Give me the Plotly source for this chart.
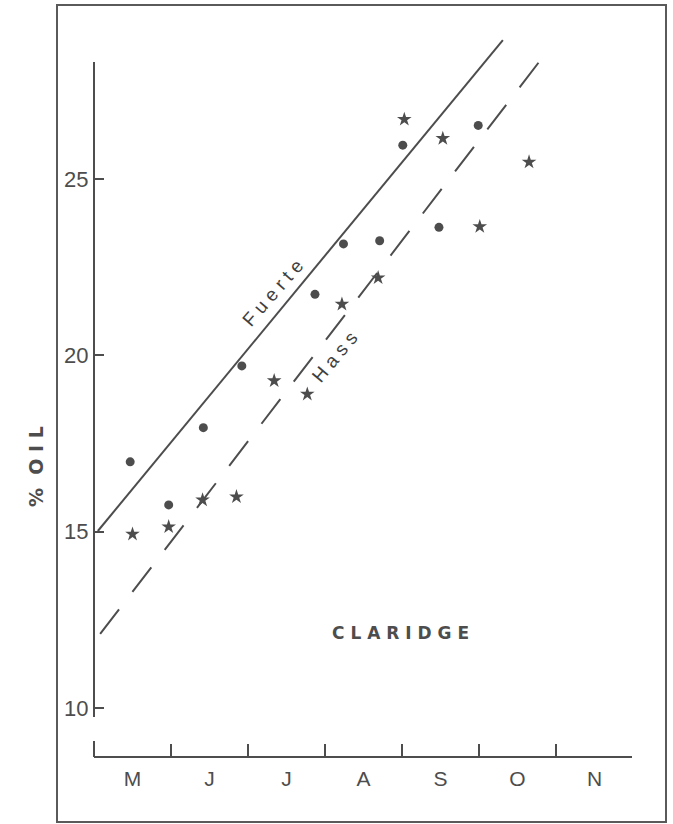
import plotly.graph_objects as go

W, H = 673, 824

# ---------------- data ----------------
months = ["M", "J", "J", "A", "S", "O", "N"]
month_centers = [0.5, 1.5, 2.5, 3.5, 4.5, 5.5, 6.5]
month_bounds = [1, 2, 3, 4, 5, 6]
y_ticks = [10, 15, 20, 25]

# x = months after 1 May, y = % oil
fuerte_x = [0.47, 0.97, 1.42, 1.92, 2.87, 3.24, 3.71, 4.01, 4.48, 4.99]
fuerte_y = [16.98, 15.76, 17.95, 19.70, 21.73, 23.16, 23.25, 25.96, 23.63, 26.52]

hass_x = [0.50, 0.97, 1.41, 1.85, 2.34, 2.77, 3.22, 3.69, 4.03, 4.53, 5.01, 5.65]
hass_y = [14.93, 15.14, 15.90, 15.99, 19.28, 18.90, 21.45, 22.20, 26.69, 26.15, 23.65, 25.48]

fuerte_fit_x = [0.05, 5.31]
fuerte_fit_y = [15.02, 28.94]
hass_fit_x = [0.08, 5.83]
hass_fit_y = [12.10, 28.46]

# ---------------- geometry (pixels) ----------------
X0, SX = 94.0, 77.0        # pixel of x=0, pixels per month
Y25, SY = 179.0, 35.27     # pixel of y=25, pixels per % oil


def xv(px):
    return (px - X0) / SX


def yv(py):
    return 25 + (Y25 - py) / SY


def paper_x(px):
    return px / W


def paper_y(py):
    return 1 - py / H


INK = "#4d4d4d"
NARROW = "Liberation Sans, Arial, sans-serif"
BOLD = "DejaVu Sans, Verdana, sans-serif"
NB = "\u00a0"


def spaced(s, n=1):
    return (NB * n).join(list(s))


fig = go.Figure()

# regression lines
fig.add_trace(go.Scatter(x=fuerte_fit_x, y=fuerte_fit_y, mode="lines",
                         line=dict(color=INK, width=2), showlegend=False,
                         hoverinfo="skip"))
fig.add_trace(go.Scatter(x=hass_fit_x, y=hass_fit_y, mode="lines",
                         line=dict(color=INK, width=2, dash="31px,22px"),
                         showlegend=False, hoverinfo="skip"))
# points
fig.add_trace(go.Scatter(x=fuerte_x, y=fuerte_y, mode="markers", name="Fuerte",
                         marker=dict(symbol="circle", size=9, color=INK),
                         showlegend=False))
fig.add_trace(go.Scatter(x=hass_x, y=hass_y, mode="markers", name="Hass",
                         marker=dict(symbol="star", size=11, color=INK,
                                     line=dict(width=0)),
                         showlegend=False))
# empty trace to create the display-axes subplot
fig.add_trace(go.Scatter(x=[], y=[], xaxis="x2", yaxis="y2", showlegend=False))

main_left, main_right, main_top, main_bottom = 40, 668, 10, 815

fig.update_layout(
    width=W, height=H,
    margin=dict(l=0, r=0, t=0, b=0, autoexpand=False),
    paper_bgcolor="white", plot_bgcolor="rgba(0,0,0,0)",
    xaxis=dict(domain=[paper_x(main_left), paper_x(main_right)],
               range=[xv(main_left), xv(main_right)], visible=False,
               fixedrange=True),
    yaxis=dict(domain=[paper_y(main_bottom), paper_y(main_top)],
               range=[yv(main_bottom), yv(main_top)], visible=False,
               fixedrange=True),
    # displayed x axis (months)
    xaxis2=dict(domain=[paper_x(X0), paper_x(632)],
                range=[0, xv(632)], anchor="free", position=paper_y(757),
                showline=True, linecolor=INK, linewidth=2,
                showgrid=False, zeroline=False,
                tickmode="array", tickvals=month_centers, ticktext=months,
                ticks="", ticklabelstandoff=3,
                tickfont=dict(family=NARROW, size=21, color=INK),
                minor=dict(tickmode="array", tickvals=month_bounds,
                           ticks="inside", ticklen=12, tickwidth=2,
                           tickcolor=INK, showgrid=False),
                fixedrange=True),
    # displayed y axis (% oil)
    yaxis2=dict(domain=[paper_y(717), paper_y(62)],
                range=[yv(717), yv(62)], anchor="free", position=paper_x(X0),
                showline=True, linecolor=INK, linewidth=2,
                showgrid=False, zeroline=False,
                tickmode="array", tickvals=y_ticks,
                ticks="inside", ticklen=9, tickwidth=2, tickcolor=INK,
                ticklabelstandoff=0,
                tickfont=dict(family=NARROW, size=22, color=INK),
                fixedrange=True),
    shapes=[
        # outer frame
        dict(type="rect", xref="paper", yref="paper",
             x0=paper_x(57), x1=paper_x(666), y0=paper_y(822), y1=paper_y(5),
             line=dict(color="#5a5a5a", width=2)),
        # upturned left end of the month axis
        dict(type="line", xref="x", yref="y",
             x0=xv(X0), x1=xv(X0), y0=yv(757), y1=yv(741),
             line=dict(color=INK, width=2)),
    ],
    annotations=[
        dict(text=spaced("Fuerte"), x=xv(272), y=yv(293), xref="x", yref="y",
             showarrow=False, textangle=-49,
             font=dict(family=NARROW, size=19, color="#3f3f3f")),
        dict(text=spaced("Hass"), x=xv(334), y=yv(357), xref="x", yref="y",
             showarrow=False, textangle=-50,
             font=dict(family=NARROW, size=19, color="#3f3f3f")),
        dict(text="<b>" + spaced("CLARIDGE") + "</b>", x=xv(400), y=yv(633),
             xref="x", yref="y", showarrow=False,
             font=dict(family=BOLD, size=17, color=INK)),
        dict(text="<b>%" + NB * 2 + spaced("OIL") + "</b>",
             x=paper_x(23), y=paper_y(467), xref="paper", yref="paper",
             showarrow=False, textangle=-90,
             font=dict(family=BOLD, size=19, color=INK)),
    ],
)

fig.write_html("out.html")
